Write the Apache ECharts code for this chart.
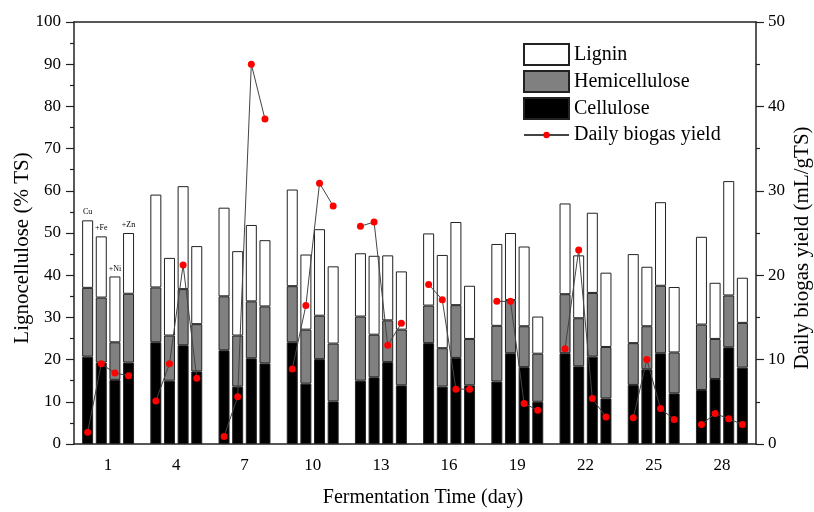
<!DOCTYPE html>
<html>
<head>
<meta charset="utf-8">
<script src="https://cdn.jsdelivr.net/npm/echarts@6/dist/echarts.min.js"></script>
<style>html,body{margin:0;padding:0;background:#fff}#c{width:814px;height:512px}</style>
</head>
<body>
<div id="c"></div>
<script>
const days = ['1','4','7','10','13','16','19','22','25','28'];
const metals = ['Cu','+Fe','+Ni','+Zn'];
const yLeftTicks = [0,10,20,30,40,50,60,70,80,90,100];
const yRightTicks = [0,10,20,30,40,50];

const celluloseCu = [20.7, 24.1, 22.2, 24.1, 15.0, 23.9, 14.8, 21.5, 14.0, 12.8];
const celluloseFe = [19.3, 15.0, 13.6, 14.3, 15.8, 13.6, 21.5, 18.4, 17.7, 15.4];
const celluloseNi = [15.2, 23.4, 20.3, 20.1, 19.4, 20.4, 18.2, 20.7, 21.5, 22.9];
const celluloseZn = [19.3, 17.2, 19.1, 10.1, 13.9, 13.9, 10.0, 10.8, 12.0, 18.1];

const hemiCu = [16.3, 13.0, 12.8, 13.3, 15.2, 8.9, 13.2, 14.0, 9.9, 15.5];
const hemiFe = [15.4, 10.7, 12.1, 12.8, 10.1, 9.1, 12.6, 11.4, 10.2, 9.5];
const hemiNi = [8.9, 13.3, 13.5, 10.3, 9.9, 12.5, 9.7, 15.1, 16.0, 12.3];
const hemiZn = [16.3, 11.2, 13.5, 13.7, 13.2, 11.0, 11.4, 12.2, 9.7, 10.6];

const ligninCu = [16.0, 22.0, 21.0, 22.9, 15.0, 17.1, 19.4, 21.5, 21.1, 20.8];
const ligninFe = [14.5, 18.4, 20.0, 17.8, 18.7, 22.1, 15.9, 14.9, 14.1, 13.3];
const ligninNi = [15.6, 24.4, 18.1, 20.5, 15.4, 19.7, 18.9, 19.0, 19.8, 27.1];
const ligninZn = [14.4, 18.5, 15.7, 18.3, 13.8, 12.6, 8.8, 17.6, 15.5, 10.7];

const biogasCu = [1.4, 5.1, 0.9, 8.9, 25.8, 18.9, 16.9, 11.3, 3.1, 2.3];
const biogasFe = [9.5, 9.5, 5.6, 16.4, 26.3, 17.1, 16.9, 23.0, 10.0, 3.6];
const biogasNi = [8.4, 21.2, 45.0, 30.9, 11.7, 6.5, 4.8, 5.4, 4.2, 3.0];
const biogasZn = [8.1, 7.8, 38.5, 28.2, 14.3, 6.5, 4.0, 3.2, 2.9, 2.3];

const cellulose = [celluloseCu, celluloseFe, celluloseNi, celluloseZn];
const hemi = [hemiCu, hemiFe, hemiNi, hemiZn];
const lignin = [ligninCu, ligninFe, ligninNi, ligninZn];
const biogas = [biogasCu, biogasFe, biogasNi, biogasZn];

const FONT = 'Liberation Serif';
const series = [];
metals.forEach((m, k) => {
  const comps = [
    {name: 'Cellulose', data: cellulose[k], color: '#000000'},
    {name: 'Hemicellulose', data: hemi[k], color: '#808080'},
    {name: 'Lignin', data: lignin[k], color: '#ffffff'}
  ];
  comps.forEach((c, j) => {
    series.push({
      type: 'bar', name: c.name, stack: m, barWidth: 11, barGap: '24%',
      xAxisIndex: 0, yAxisIndex: 0,
      itemStyle: {color: c.color, borderColor: '#222', borderWidth: 1},
      emphasis: {disabled: true},
      data: c.data.map((v, i) => (j === 2 && i === 0) ? {
        value: v,
        label: {show: true, formatter: m, position: 'top', distance: 4, fontSize: 8, fontFamily: FONT, color: '#000'}
      } : v)
    });
  });
});

const lineData = [];
days.forEach((d, i) => {
  biogas.forEach((arr, k) => lineData.push([5 * i + 1 + k, arr[i]]));
  lineData.push([5 * i + 4.5, '-']);
});
series.push({
  type: 'line', name: 'Daily biogas yield', xAxisIndex: 1, yAxisIndex: 1,
  data: lineData, connectNulls: false,
  symbol: 'circle', symbolSize: 7,
  itemStyle: {color: '#ff0000'},
  lineStyle: {color: '#444', width: 1},
  emphasis: {disabled: true},
  z: 5
});

const chart = echarts.init(document.getElementById('c'), null, {renderer: 'canvas'});
chart.setOption({
  animation: false,
  backgroundColor: '#fff',
  textStyle: {fontFamily: FONT, color: '#000'},
  grid: {left: 74, right: 58, top: 22, bottom: 68, containLabel: false, outerBoundsMode: 'none'},
  legend: [{
    data: ['Lignin', 'Hemicellulose', 'Cellulose'],
    icon: 'rect',
    orient: 'vertical', left: 518, top: 38, itemWidth: 45, itemHeight: 21, itemGap: 4,
    textStyle: {fontFamily: FONT, fontSize: 20, color: '#000'}, selectedMode: false
  }, {
    data: ['Daily biogas yield'],
    orient: 'vertical', left: 518, top: 120, itemWidth: 45, itemHeight: 8, itemGap: 4,
    textStyle: {fontFamily: FONT, fontSize: 20, color: '#000'}, selectedMode: false
  }],
  xAxis: [{
    type: 'category', data: days, position: 'bottom', boundaryGap: true,
    name: 'Fermentation Time (day)', nameLocation: 'middle', nameGap: 44, nameMoveOverlap: false,
    nameTextStyle: {fontFamily: FONT, fontSize: 20, color: '#000', padding: [0, 0, 0, 16]},
    axisLine: {show: true, lineStyle: {color: '#222', width: 1.5}},
    axisTick: {show: false},
    axisLabel: {fontFamily: FONT, fontSize: 17, color: '#000', margin: 13},
    splitLine: {show: false}
  }, {
    type: 'value', position: 'top', min: 0, max: 50,
    axisLine: {show: true, onZero: false, lineStyle: {color: '#222', width: 1.5}},
    axisTick: {show: false}, axisLabel: {show: false}, splitLine: {show: false}
  }],
  yAxis: [{
    type: 'value', position: 'left', min: yLeftTicks[0], max: yLeftTicks[yLeftTicks.length - 1], interval: 10,
    name: 'Lignocellulose (% TS)', nameLocation: 'middle', nameGap: 41, nameRotate: 90, nameMoveOverlap: false,
    nameTextStyle: {fontFamily: FONT, fontSize: 21, color: '#000', padding: [0, 30, 0, 0]},
    axisLine: {show: true, lineStyle: {color: '#222', width: 1.5}},
    axisTick: {show: true, inside: false, length: 8, lineStyle: {color: '#222', width: 1.2}},
    minorTick: {show: true, splitNumber: 2, length: 4, lineStyle: {color: '#222', width: 1.2}},
    axisLabel: {fontFamily: FONT, fontSize: 17, color: '#000', margin: 13},
    splitLine: {show: false}
  }, {
    type: 'value', position: 'right', min: yRightTicks[0], max: yRightTicks[yRightTicks.length - 1], interval: 10,
    name: 'Daily biogas yield (mL/gTS)', nameLocation: 'middle', nameGap: 36, nameRotate: 90, nameMoveOverlap: false,
    nameTextStyle: {fontFamily: FONT, fontSize: 21, color: '#000', padding: [0, 30, 0, 0]},
    axisLine: {show: true, lineStyle: {color: '#222', width: 1.5}},
    axisTick: {show: true, inside: false, length: 8, lineStyle: {color: '#222', width: 1.2}},
    minorTick: {show: true, splitNumber: 2, length: 4, lineStyle: {color: '#222', width: 1.2}},
    axisLabel: {fontFamily: FONT, fontSize: 17, color: '#000', margin: 12},
    splitLine: {show: false}
  }],
  series: series
});
</script>
</body>
</html>
